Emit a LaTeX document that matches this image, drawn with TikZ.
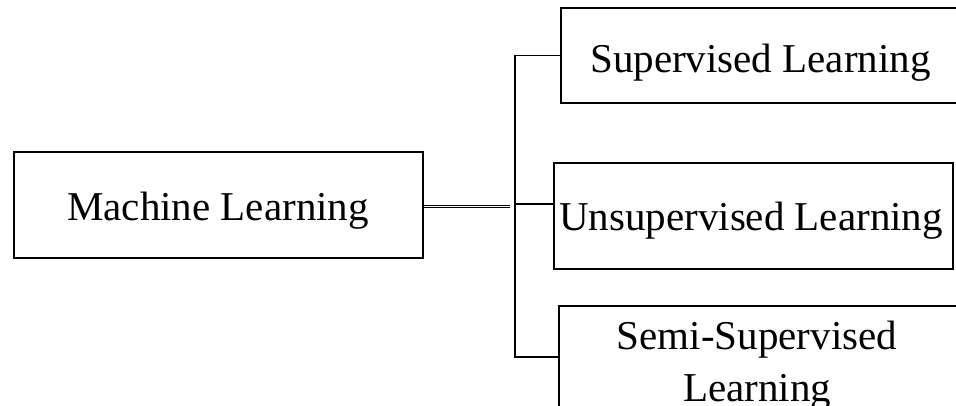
\documentclass[tikz,border=0pt]{standalone}
\usepackage{fontspec}
\setmainfont{Liberation Serif}
\begin{document}
\begin{tikzpicture}[x=1pt,y=-1pt,
  box/.style={draw=black,line width=1.6pt,rectangle,inner sep=0pt,fill=none},
  lbl/.style={anchor=base west,inner sep=0pt,font=\fontsize{41}{48}\selectfont},
  conn/.style={draw=black,line width=1.3pt},
  dbl/.style={draw=black,line width=0.9pt,double,double distance=0.9pt}]
\useasboundingbox (0,0) rectangle (956,405);
\clip (0,0) rectangle (956,405);
% boxes
\node[box,minimum width=409pt,minimum height=106pt] (ml) at (218.5,205) {};
\node[box,minimum width=440pt,minimum height=95pt] (sup) at (781,55.5) {};
\node[box,minimum width=399pt,minimum height=106pt] (un) at (753.5,216) {};
\node[box,minimum width=440pt,minimum height=102pt] (semi) at (779,357) {};
% texts
\node[lbl] (tml) at (67,220) {Machine Learning};
\node[lbl] (tsup) at (590,72) {Supervised Learning};
\node[lbl] (tun) at (559,230) {Unsupervised Learning};
\node[lbl,anchor=base] (tsemi1) at (757,349) {Semi-Supervised};
\node[lbl,anchor=base] (tsemi2) at (757,401) {Learning};
% connectors
\coordinate (jx) at (515,0);
\coordinate (uy) at (0,204);
\coordinate (dy) at (0,206.5);
\coordinate (dend) at (510,206.5);
\draw[conn] (sup.west) -| (jx |- semi.west) -- (semi.west);
\draw[conn] (jx |- uy) -- (un.west |- uy);
\draw[dbl] (ml.east |- dy) -- (dend);
\end{tikzpicture}
\end{document}
